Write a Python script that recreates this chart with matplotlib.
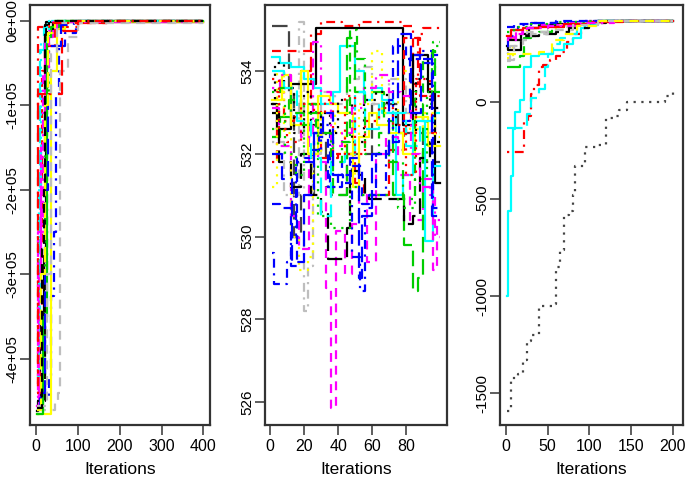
import matplotlib
matplotlib.use("Agg")
import matplotlib.pyplot as plt

plt.rcParams['font.family'] = ['Liberation Sans', 'DejaVu Sans']

PALETTE = ['#000000', '#FF0000', '#00CD00', '#0000FF', '#00FFFF', '#FF00FF', '#FFFF00', '#BEBEBE', '#444444']
STYLES = ['-', (0, (4, 3)), (0, (1, 2.5)), (0, (1, 2.5, 4, 2.5)), (0, (7, 3))]

# ---------- Panel 1 (iterations 1..400) ----------
P1_END = 400
P1_X = [
    [1, 4, 10, 18, 23],
    [1, 10, 14, 22, 45, 100, 170],
    [1, 16, 22, 30, 60],
    [1, 12, 30, 36, 42, 48, 55, 70, 95],
    [1, 9, 18, 25],
    [1, 6, 12, 20, 40],
    [1, 32, 36, 50, 70],
    [1, 45, 52, 58, 75, 100],
    [1, 20, 26, 40],
    [1, 5, 57, 62, 100, 170],
    [1, 15, 25, 35, 55],
    [1, 8, 20, 28, 60, 90],
    [1, 6, 12, 30],
    [1, 5, 15, 30, 50],
    [1, 12, 20, 28, 45],
    [1, 25, 35, 50],
    [1, 14, 18, 22, 30],
    [1, 3, 25, 30, 100],
]
P1_Y = [
    [-462e3, -450e3, -355e3, -278e3, -1500],
    [-440e3, -380e3, -60e3, -30e3, -8e3, -3e3, 0],
    [-465e3, -440e3, -90e3, -5e3, -1000],
    [-455e3, -445e3, -420e3, -325e3, -250e3, -90e3, -30e3, -15e3, -1000],
    [-352e3, -35e3, -8e3, -1000],
    [-455e3, -300e3, -150e3, -20e3, -2000],
    [-465e3, -465e3, -60e3, -10e3, -2000],
    [-460e3, -448e3, -440e3, -60e3, -20e3, -1000],
    [-450e3, -300e3, -10e3, -1000],
    [-430e3, -87e3, -87e3, -12e3, -3000, 0],
    [-465e3, -350e3, -20e3, -8e3, -1000],
    [-460e3, -440e3, -200e3, -30e3, -5e3, -500],
    [-420e3, -200e3, -25e3, -1000],
    [-445e3, -250e3, -60e3, -12e3, -2000],
    [-460e3, -300e3, -100e3, -15e3, -1000],
    [-455e3, -300e3, -40e3, -3000],
    [-458e3, -270e3, -200e3, -5e3, -500],
    [-440e3, -8e3, -8e3, -3e3, -500],
]
P1_COL = [0, 1, 2, 3, 4, 5, 6, 7, 0, 1, 2, 3, 4, 5, 6, 7, 0, 1]
P1_STY = [0, 1, 2, 3, 4, 0, 0, 1, 3, 4, 0, 4, 2, 3, 4, 1, 1, 3]

# ---------- Panel 2 (iterations 1..100) ----------
P2_END = 100
P2_X = [
    [1, 11, 14, 18, 26, 33, 36, 45, 60, 75, 90],
    [1, 8, 17, 20, 22, 25, 30, 38, 45, 52, 60, 70, 80, 90],
    [1, 4, 8, 14, 18, 24, 30, 42, 52, 79, 84, 87, 90],
    [1, 4, 12, 27, 78, 84, 93, 97],
    [1, 22, 24, 30, 40, 50, 55, 70, 79, 88, 95],
    [1, 6, 12, 20, 26, 30, 37, 41, 50, 55, 60, 66, 74, 78, 84, 91, 96],
    [1, 5, 12, 17, 23, 28, 33, 36, 39, 44, 48, 52, 57, 62, 68, 75, 82, 90, 96, 98],
    [1, 6, 11, 18, 24, 30, 37, 45, 50, 57, 67, 72, 79, 84, 87, 90, 95, 97],
    [1, 2, 10, 12, 15, 25, 30, 35, 42, 48, 53, 56, 60, 68, 72, 80, 88, 96],
    [1, 5, 12, 18, 24, 30, 34, 45, 47, 52, 56, 58, 79, 84, 88, 94],
    [1, 4, 8, 12, 17, 22, 25, 30, 38, 44, 50, 52, 60, 66, 75, 82, 90, 97],
    [1, 7, 12, 18, 22, 28, 35, 40, 47, 49, 52, 58, 63, 70, 78, 85, 93],
    [1, 6, 12, 16, 24, 29, 34, 40, 47, 54, 58, 62, 70, 76, 82, 90, 95],
    [1, 5, 9, 15, 20, 28, 36, 47, 52, 60, 75, 85, 92, 97],
    [1, 3, 8, 14, 20, 24, 30, 35, 40, 48, 55, 62, 69, 74, 80, 86, 94],
    [1, 6, 12, 18, 25, 30, 36, 42, 48, 55, 62, 70, 77, 83, 88, 94, 97],
    [1, 8, 16, 24, 30, 36, 44, 50, 56, 64, 72, 80, 88, 96],
    [1, 6, 12, 20, 27, 36, 42, 47, 51, 56, 64, 70, 78, 85, 90, 96],
    [1, 5, 10, 18, 26, 32, 37, 44, 50, 56, 64, 72, 80, 86, 94],
    [1, 7, 13, 20, 26, 31, 37, 43, 47, 52, 54, 60, 70, 75, 83, 89, 95],
]
P2_Y = [
    [535.1, 533.5, 530.0, 531.0, 532.5, 531.2, 531.0, 532.0, 533.2, 532.5, 531.8],
    [532.3, 531.0, 535.2, 528.2, 529.3, 532.0, 533.5, 533.2, 533.8, 534.1, 533.2, 533.8, 533.0, 532.5],
    [531.8, 533.5, 532.8, 532.9, 534.0, 534.9, 535.2, 535.1, 535.2, 535.1, 533.7, 534.9, 535.05],
    [533.2, 532.6, 533.7, 535.05, 532.7, 534.4, 533.5, 531.3],
    [534.5, 534.5, 533.2, 531.9, 532.0, 531.3, 531.0, 532.1, 534.8, 533.4, 532.5],
    [534.35, 534.2, 534.1, 533.8, 533.6, 533.2, 533.5, 534.6, 534.0, 533.3, 533.6, 533.0, 531.0, 531.5, 532.8, 529.9, 531.7],
    [533.1, 532.2, 530.5, 529.7, 532.8, 531.8, 528.75, 525.85, 530.15, 529.1, 530.3, 531.0, 529.4, 532.0, 532.4, 531.5, 530.4, 531.4, 529.2, 530.4],
    [532.4, 532.9, 533.3, 532.7, 533.0, 532.4, 531.0, 534.8, 533.5, 533.5, 532.8, 531.0, 529.8, 528.7, 529.0, 533.2, 534.5, 533.5],
    [529.6, 528.85, 529.4, 530.0, 531.8, 532.1, 532.7, 531.2, 531.8, 529.5, 528.7, 530.7, 531.0, 532.2, 534.6, 534.3, 534.5, 530.7],
    [533.0, 531.8, 531.2, 532.0, 531.0, 530.6, 529.45, 530.2, 531.6, 531.5, 531.0, 530.9, 530.3, 530.5, 531.9, 532.3],
    [531.2, 534.0, 532.5, 530.0, 529.2, 529.5, 532.0, 533.0, 532.5, 532.0, 531.5, 533.2, 534.5, 533.0, 534.0, 532.6, 533.0, 532.4],
    [533.3, 533.9, 532.7, 534.0, 532.0, 533.4, 533.2, 533.0, 533.0, 531.2, 532.4, 533.0, 532.7, 532.5, 532.0, 532.9, 532.2],
    [530.8, 530.7, 529.3, 531.9, 532.1, 532.4, 531.2, 531.5, 531.7, 530.8, 531.0, 532.0, 532.3, 532.8, 534.4, 534.2, 534.4],
    [532.6, 533.2, 532.0, 531.5, 533.0, 530.5, 530.2, 531.2, 531.0, 531.0, 530.7, 531.4, 533.5, 534.6],
    [533.2, 534.2, 533.6, 532.5, 533.5, 532.7, 533.0, 532.5, 533.3, 532.3, 533.3, 533.5, 533.2, 532.7, 532.5, 533.8, 533.1],
    [533.6, 533.9, 533.0, 532.4, 534.7, 533.5, 532.2, 532.5, 533.1, 533.6, 533.9, 533.5, 533.4, 532.0, 531.2, 531.0, 530.0],
    [534.0, 533.6, 532.8, 531.9, 530.5, 531.8, 532.0, 533.5, 532.6, 533.3, 533.0, 532.2, 532.8, 533.0],
    [533.5, 533.6, 533.0, 533.2, 532.5, 531.8, 532.3, 535.0, 534.3, 532.0, 532.5, 531.8, 530.9, 533.5, 534.3, 534.7],
    [533.8, 532.6, 532.3, 533.2, 533.0, 533.3, 532.0, 533.4, 532.0, 532.8, 533.1, 532.7, 531.5, 533.8, 533.4],
    [532.0, 531.4, 529.4, 531.0, 532.5, 533.0, 531.5, 531.3, 531.9, 529.0, 530.5, 532.0, 533.3, 534.9, 533.0, 534.3, 530.5],
]
P2_COL = [8, 7, 1, 0, 1, 4, 5, 2, 3, 0, 6, 6, 3, 2, 0, 5, 4, 2, 1, 3]
P2_STY = [4, 3, 3, 0, 1, 0, 1, 4, 3, 4, 2, 0, 1, 2, 2, 3, 4, 3, 2, 4]

# ---------- Panel 3 (iterations 1..200) ----------
P3_END = 200
P3_X = [
    [1, 2, 18, 28, 40, 60, 100, 110],
    [1, 22, 27, 30, 34, 40, 45, 53, 60, 67, 73, 80, 90, 100, 110, 130],
    [1, 17, 22, 30, 40, 55, 70, 90, 110],
    [1, 2, 8, 15, 30, 60, 90],
    [1, 2, 6, 9, 11, 17, 22, 30, 40, 55, 70, 80, 90, 100, 110],
    [1, 10, 20, 40, 70, 100],
    [1, 8, 12, 30, 60, 100],
    [1, 5, 12, 25, 50, 80, 120],
    [1, 6, 15, 20, 25, 30, 40, 58, 60, 65, 70, 75, 80, 83, 95, 110, 120, 130, 135, 145, 185, 190, 200],
    [1, 15, 25, 30, 40, 47, 50, 57, 65, 75, 85, 95, 115],
    [1, 20, 40, 60, 75, 100, 120],
    [1, 6, 20, 40, 70, 100, 140],
    [1, 10, 30, 60, 100],
    [1, 10, 30, 60, 100],
    [1, 12, 25, 50, 90, 130],
    [1, 10, 20, 30, 50, 80, 110],
    [1, 40, 55, 70, 85, 110],
]
P3_Y = [
    [290, 270, 350, 380, 400, 405, 415, 420],
    [-255, -100, -70, 40, 90, 180, 190, 220, 240, 260, 310, 350, 380, 400, 415, 420],
    [180, 240, 330, 340, 360, 390, 405, 415, 420],
    [250, 340, 370, 400, 410, 415, 420],
    [-1000, -560, -380, -140, -50, 10, 180, 240, 250, 270, 300, 330, 380, 400, 420],
    [330, 350, 380, 400, 410, 420],
    [230, 330, 370, 385, 400, 420],
    [210, 290, 320, 360, 390, 410, 420],
    [-1590, -1420, -1400, -1330, -1230, -1200, -1050, -1040, -850, -760, -580, -560, -480, -330, -230, -220, -80, -70, -40, 0, 0, 30, 70],
    [-135, -135, -60, 20, 70, 180, 250, 300, 330, 350, 380, 400, 420],
    [320, 340, 350, 360, 380, 410, 420],
    [340, 370, 380, 390, 405, 415, 420],
    [360, 390, 405, 415, 420],
    [390, 405, 410, 418, 420],
    [320, 360, 380, 395, 410, 420],
    [220, 290, 320, 350, 370, 400, 420],
    [250, 260, 320, 350, 395, 420],
]
P3_COL = [0, 1, 2, 3, 4, 5, 6, 7, 8, 4, 0, 1, 2, 3, 5, 7, 6]
P3_STY = [0, 3, 4, 3, 0, 1, 2, 1, 2, 4, 4, 0, 2, 1, 3, 1, 1]

P1_YTICKS = [0, -1e5, -2e5, -3e5, -4e5]
P1_YLABELS = ['0e+00', '-1e+05', '-2e+05', '-3e+05', '-4e+05']
P1_XTICKS = [0, 100, 200, 300, 400]
P2_YTICKS = [526, 528, 530, 532, 534]
P2_XTICKS = [0, 20, 40, 60, 80]
P3_YTICKS = [-1500, -1000, -500, 0]
P3_XTICKS = [0, 50, 100, 150, 200]
XLABEL = 'Iterations'

fig = plt.figure(figsize=(6.85, 4.8), dpi=100)
H = 0.875
B = 0.1146
axes = [
    fig.add_axes([30 / 685, B, 180 / 685, H]),
    fig.add_axes([265 / 685, B, 182 / 685, H]),
    fig.add_axes([500 / 685, B, 183 / 685, H]),
]

panels = [
    (P1_X, P1_Y, P1_COL, P1_STY, P1_END, (-15, 416), (-478e3, 18.4e3), P1_XTICKS, P1_YTICKS, P1_YLABELS),
    (P2_X, P2_Y, P2_COL, P2_STY, P2_END, (-3, 104), (525.45, 535.6), P2_XTICKS, P2_YTICKS, [str(v) for v in P2_YTICKS]),
    (P3_X, P3_Y, P3_COL, P3_STY, P3_END, (-7, 212), (-1663, 501), P3_XTICKS, P3_YTICKS, [str(v) for v in P3_YTICKS]),
]

for ax, (XS, YS, COLS, STYS, END, xl, yl, xt, yt, ylab) in zip(axes, panels):
    for xs, ys, c, s in zip(XS, YS, COLS, STYS):
        ax.plot(list(xs) + [END], list(ys) + [ys[-1]], drawstyle='steps-post',
                color=PALETTE[c], linestyle=STYLES[s], lw=1.6)
    ax.set_xlim(*xl)
    ax.set_ylim(*yl)
    ax.set_xticks(xt)
    ax.set_xticklabels([str(v) for v in xt], fontsize=11.5)
    ax.set_yticks(yt)
    ax.set_yticklabels(ylab, fontsize=11, rotation=90, va='center')
    ax.tick_params(length=7, width=1.1, color='#333333', pad=3)
    ax.tick_params(axis='y', pad=1)
    for sp in ax.spines.values():
        sp.set_color('#333333')
        sp.set_linewidth(1.6)
    ax.set_xlabel(XLABEL, fontsize=12.5, labelpad=6)

fig.savefig('out.png', dpi=100)
